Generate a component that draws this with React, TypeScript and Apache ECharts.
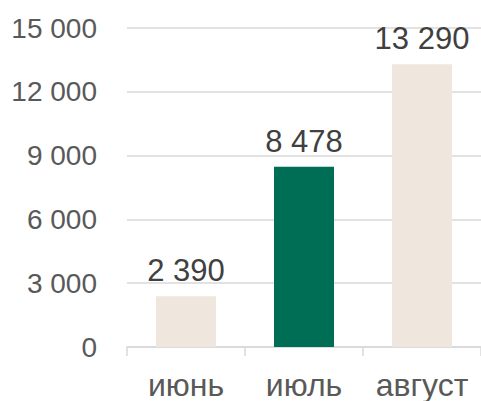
import React, { useEffect, useRef } from "react";
import * as echarts from "echarts";

const categories = ["июнь", "июль", "август"];
const values = [2390, 8478, 13290];
const barColors = ["#EFE6DD", "#006E54", "#EFE6DD"];
const yTicks = [0, 3000, 6000, 9000, 12000, 15000];

const fmt = (v: number) => String(Math.round(v)).replace(/\B(?=(\d{3})+(?!\d))/g, " ");

export default function App() {
  const ref = useRef<HTMLDivElement>(null);
  useEffect(() => {
    document.body.style.margin = "0";
    const chart = echarts.init(ref.current!, null, { renderer: "svg" });
    chart.setOption({
      animation: false,
      grid: { left: 127, right: 0, top: 28, bottom: 53, containLabel: false },
      xAxis: {
        type: "category",
        data: categories,
        axisLine: { lineStyle: { color: "#D9D9D9", width: 1.5 } },
        axisTick: { show: true, length: 9, alignWithLabel: false, lineStyle: { color: "#D9D9D9", width: 1.5 } },
        axisLabel: {
          color: "#595959",
          fontSize: 32,
          fontFamily: "Liberation Sans, Arial",
          margin: 22,
          interval: 0,
          hideOverlap: false,
        },
      },
      yAxis: {
        type: "value",
        min: yTicks[0],
        max: yTicks[yTicks.length - 1],
        interval: 3000,
        axisLine: { show: false },
        axisTick: { show: false },
        splitLine: { lineStyle: { color: "#D9D9D9", width: 1.5 } },
        axisLabel: {
          color: "#595959",
          fontSize: 28,
          fontFamily: "Liberation Sans, Arial",
          margin: 30,
          formatter: (v: number) => fmt(v),
        },
      },
      series: [
        {
          type: "bar",
          barWidth: 60,
          data: values.map((v, i) => ({ value: v, itemStyle: { color: barColors[i] } })),
          label: {
            show: true,
            position: "top",
            distance: 10,
            color: "#404040",
            fontSize: 31,
            fontFamily: "Liberation Sans, Arial",
            formatter: (p: any) => fmt(p.value),
          },
        },
      ],
    });
    return () => chart.dispose();
  }, []);
  return <div ref={ref} style={{ width: 481, height: 401 }} />;
}
